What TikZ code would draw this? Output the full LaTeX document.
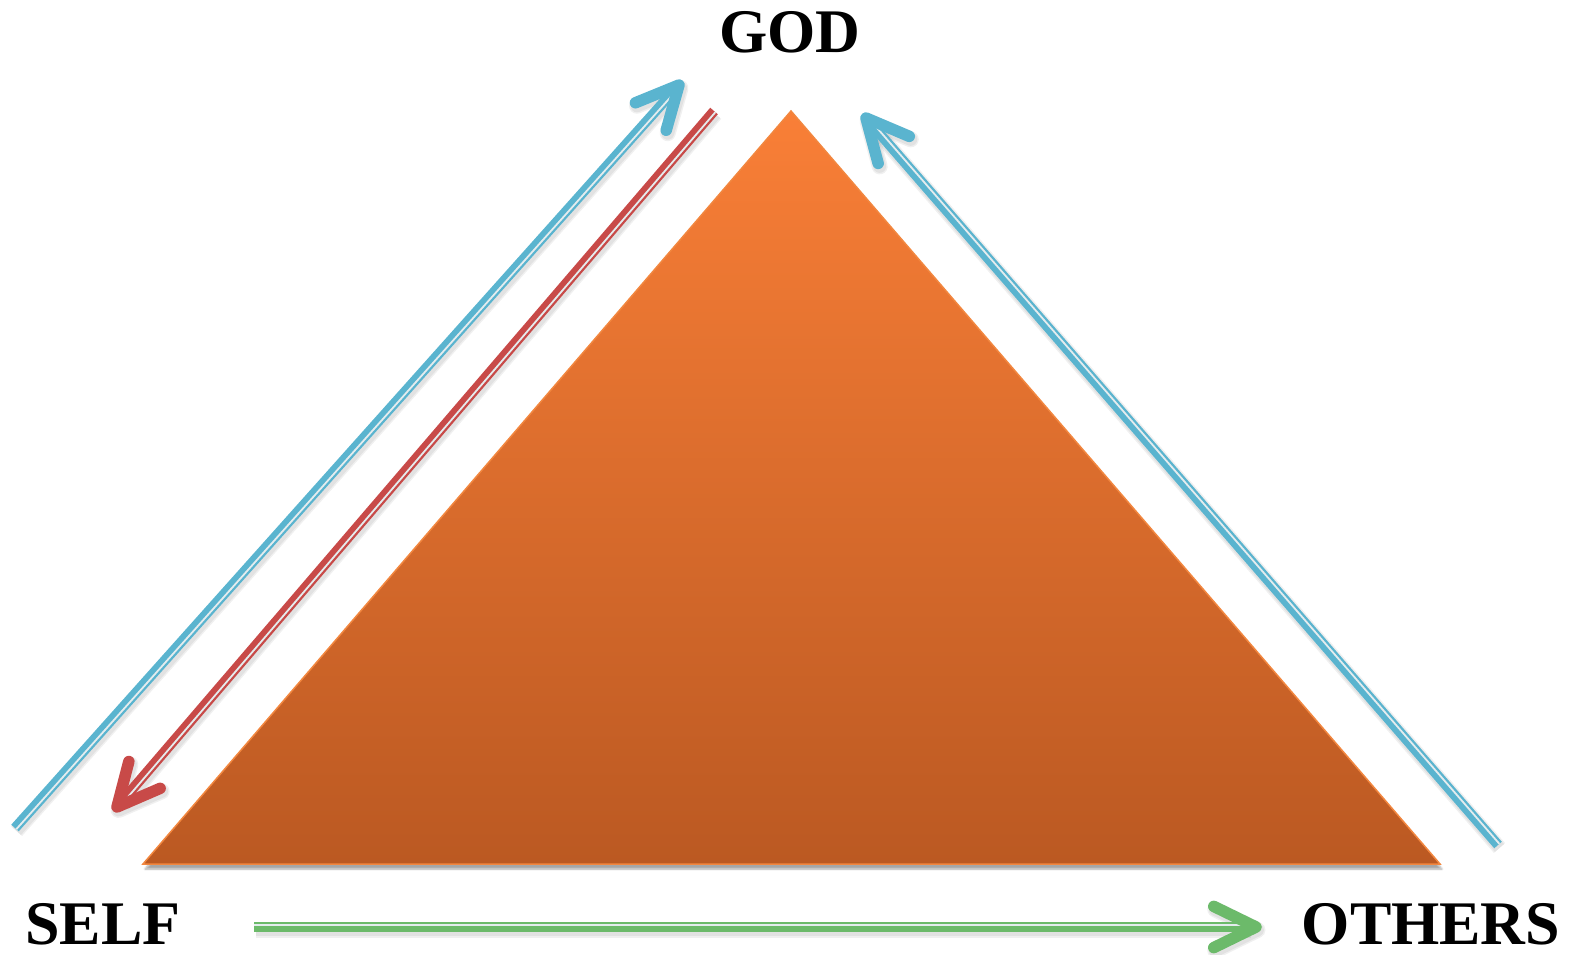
\documentclass[tikz,border=0pt]{standalone}
\usepackage{fontspec}
\setmainfont{Liberation Serif}
\usetikzlibrary{calc,shadows.blur}
\definecolor{myblue}{HTML}{5AB4CF}
\definecolor{myred}{HTML}{C84A48}
\definecolor{mygreen}{HTML}{6CBA6A}
\definecolor{orangetop}{HTML}{F97F37}
\definecolor{orangebot}{HTML}{BB5922}
\definecolor{orangeedge}{HTML}{F2873F}
\definecolor{stripe}{HTML}{E4ECEE}
\tikzset{
  lbl/.style={font=\bfseries\fontsize{62}{62}\selectfont, inner sep=0pt, anchor=base},
  shaftline/.style={line width=10pt},
  stripeline/.style={line width=1.8pt, stripe},
  head/.style={line width=11.5pt, line cap=round, line join=round},
  shadowlayer/.style={black, opacity=0.06, line join=round},
}
% #1 colour, #2 tail, #3 tip, #4 rotation towards the thin side
\newcommand\myarrow[4]{%
  \coordinate (#2-e) at ($(#3)!7pt!(#2)$);
  \coordinate (#2-a1) at ($(#3)!47pt!26:(#2)$);
  \coordinate (#2-a2) at ($(#3)!47pt!-26:(#2)$);
  \coordinate (#2-s1) at ($(#2)!1.8pt!#4:(#3)$);
  \coordinate (#2-s2) at ($(#2-e)!1.8pt!-#4:(#2)$);
  \begin{scope}[transform canvas={shift={(1.5pt,-3pt)}}]
    \draw[shadowlayer, line width=15pt] (#2) -- (#2-e);
    \draw[shadowlayer, line width=12pt] (#2) -- (#2-e);
    \draw[shadowlayer, line cap=round, line width=16pt] (#2-a1) -- (#3) -- (#2-a2);
    \draw[shadowlayer, line cap=round, line width=13pt] (#2-a1) -- (#3) -- (#2-a2);
  \end{scope}
  \draw[shaftline, #1] (#2) -- (#2-e);
  \draw[stripeline] (#2-s1) -- (#2-s2);
  \draw[head, #1] (#2-a1) -- (#3) -- (#2-a2);
}
\begin{document}
\begin{tikzpicture}[x=1pt,y=-1pt]
\useasboundingbox (0,0) rectangle (1580,955);
% labels
\node[lbl] (god) at (790,53) {GOD};
\node[lbl] (self) at (103,944) {SELF};
\node[lbl] (others) at (1431,944) {OTHERS};
% triangle
\coordinate (apex) at (791,111);
\coordinate (bl) at (143,864);
\coordinate (br) at (1440,864);
\path[blur shadow={shadow xshift=2pt, shadow yshift=-5pt, shadow opacity=35, shadow blur steps=6}]
  (apex) -- (bl) -- (br) -- cycle;
\shade[top color=orangetop, bottom color=orangebot] (apex) -- (bl) -- (br) -- cycle;
\draw[orangeedge, line width=1.5pt, line join=miter] (apex) -- (bl) -- (br) -- cycle;
% arrow end points
\coordinate (b1tail) at (15,828);
\coordinate (b1tip) at (679,85);
\coordinate (rtail) at (714,111);
\coordinate (rtip) at (117,807);
\coordinate (b2tail) at (1498,845);
\coordinate (b2tip) at (866,118);
\coordinate (gtail) at (254,927);
\coordinate (gtip) at (1256,927);
% arrows
\myarrow{myblue}{b1tail}{b1tip}{-90}
\myarrow{myred}{rtail}{rtip}{90}
\myarrow{myblue}{b2tail}{b2tip}{-90}
\myarrow{mygreen}{gtail}{gtip}{90}
\end{tikzpicture}
\end{document}
